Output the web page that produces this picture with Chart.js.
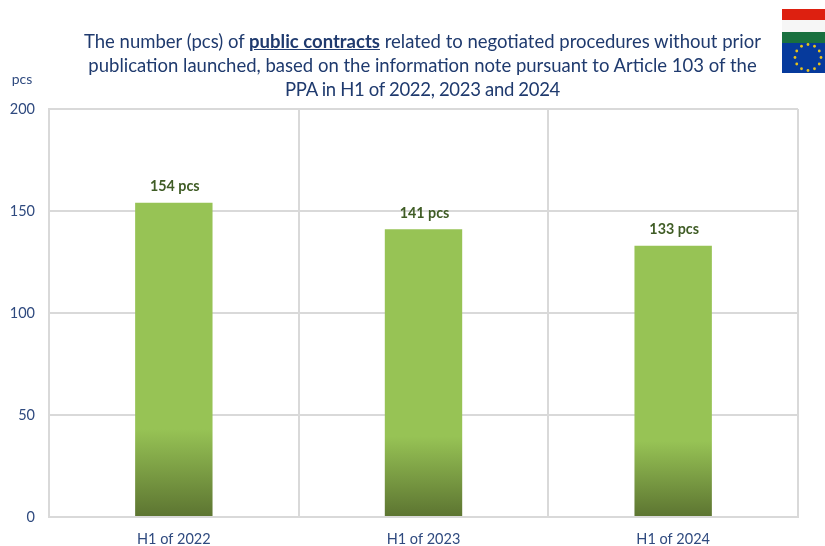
<!DOCTYPE html>
<html><head><meta charset="utf-8">
<script src="https://cdn.jsdelivr.net/npm/chart.js@4"></script>
<style>
html,body{margin:0;padding:0;background:#fff;width:825px;height:546px;overflow:hidden}
#wrap{position:relative;width:825px;height:546px}
canvas{position:absolute;left:0;top:0}
#title{position:absolute;left:60px;width:725px;top:29px;text-align:center;font:18.5px/24px Lato,sans-serif;color:#1f3a6e}
#title b{text-decoration:underline}
#title span{letter-spacing:-0.32px}
</style></head><body>
<div id="wrap"><canvas id="c" width="825" height="546"></canvas>
<div id="title">The number (pcs) of <b>public contracts</b> related to negotiated procedures without prior<br>publication launched, based on the information note pursuant to Article 103 of the<br><span>PPA in H1 of 2022, 2023 and 2024</span></div></div>
<script>
const categories=["H1 of 2022","H1 of 2023","H1 of 2024"];
const values=[154,141,133];
const yTicks=[0,50,100,150,200];
const unit="pcs";
const textBlue="#2f4a7f", labelGreen="#3f5c25";

const extras={id:"extras",
 afterDatasetsDraw(ch){
  const g=ch.ctx, meta=ch.getDatasetMeta(0);
  g.save();
  g.fillStyle=labelGreen; g.font="bold 14.3px Lato,sans-serif";
  g.textAlign="center"; g.textBaseline="middle";
  meta.data.forEach((b,i)=>g.fillText(values[i]+" "+unit,b.x+1,b.y-16));
  g.fillStyle=textBlue; g.font="14px Lato,sans-serif";
  g.fillText(unit,22,79);
  g.restore();
 },
 afterDraw(ch){
  const g=ch.ctx; g.save();
  g.fillStyle="#dd2010"; g.fillRect(782,9,43,11);
  g.fillStyle="#f6f6f6"; g.fillRect(782,20,43,12);
  g.fillStyle="#19703f"; g.fillRect(782,32,43,11);
  g.fillStyle="#063a9c"; g.fillRect(782,43,43,30);
  g.fillStyle="#e8c21a";
  for(let i=0;i<12;i++){const a=i*Math.PI/6;
   g.beginPath();g.arc(808+13*Math.sin(a),57.5-13*Math.cos(a),1.4,0,7);g.fill();}
  g.restore();
 }};

new Chart(document.getElementById("c"),{
 type:"bar",
 data:{labels:categories,datasets:[{data:values,
  barPercentage:0.31,categoryPercentage:1,
  backgroundColor(ctx){
   const a=ctx.chart.chartArea; if(!a) return "#97c355";
   const y=ctx.chart.scales.y, top=y.getPixelForValue(values[ctx.dataIndex]), bot=y.getPixelForValue(0);
   const gr=ctx.chart.ctx.createLinearGradient(0,top,0,bot);
   gr.addColorStop(0,"#97c355");gr.addColorStop(0.72,"#97c355");gr.addColorStop(1,"#5c7431");
   return gr;
  }}]},
 options:{responsive:false,animation:false,
  layout:{padding:{top:109,right:27,left:0,bottom:0}},
  plugins:{legend:{display:false},title:{display:false},tooltip:{enabled:false}},
  scales:{
   x:{grid:{color:"#d9d9d9",lineWidth:2,drawTicks:false},border:{color:"#d9d9d9",width:2},
      ticks:{color:textBlue,font:{family:"Lato,sans-serif",size:14.5},padding:14},
      afterFit(s){s.height=29;}},
   y:{min:0,max:200,afterBuildTicks(s){s.ticks=yTicks.map(v=>({value:v}));},
      grid:{color:"#d9d9d9",lineWidth:2,drawTicks:false},border:{color:"#d9d9d9",width:2},
      ticks:{color:textBlue,font:{family:"Lato,sans-serif",size:14.5},padding:14},
      afterFit(s){s.width=49;}}
  }},
 plugins:[extras]
});
</script></body></html>
